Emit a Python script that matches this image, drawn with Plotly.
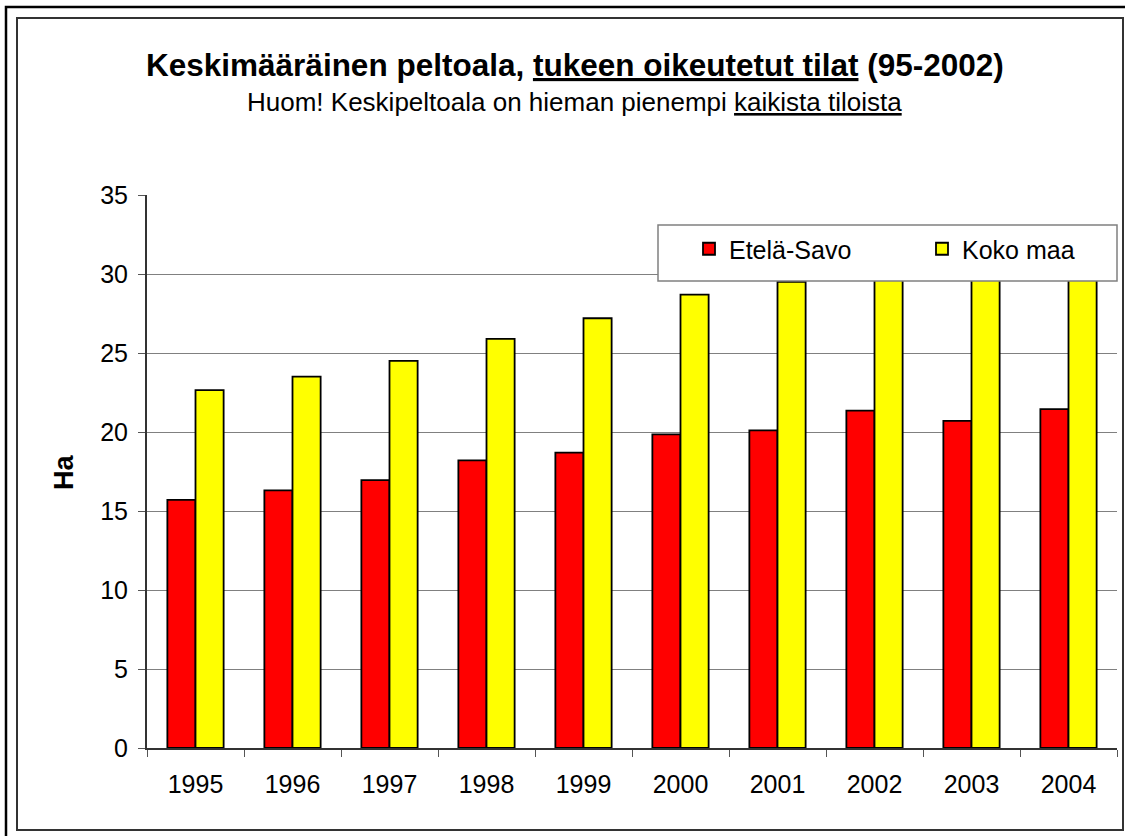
import plotly.graph_objects as go

years = ["1995", "1996", "1997", "1998", "1999", "2000", "2001", "2002", "2003", "2004"]
etela_savo = [15.7, 16.3, 16.95, 18.2, 18.7, 19.85, 20.1, 21.35, 20.7, 21.45]
koko_maa = [22.65, 23.5, 24.5, 25.9, 27.2, 28.7, 29.5, 30.4, 30.9, 31.5]
y_ticks = [0, 5, 10, 15, 20, 25, 30, 35]

FONT = "Arial, Liberation Sans, sans-serif"
W, H = 1125, 836
L, R, T, B = 147, 8, 195, 88
PW, PH = W - L - R, H - T - B


def px(x):
    return (x - L) / PW


def py(y):
    return (H - B - y) / PH


fig = go.Figure()
fig.add_trace(go.Bar(x=years, y=etela_savo, name="Etelä-Savo", legend="legend",
                     marker=dict(color="#FF0000", line=dict(color="black", width=1.8))))
fig.add_trace(go.Bar(x=years, y=koko_maa, name="Koko maa", legend="legend2",
                     marker=dict(color="#FFFF00", line=dict(color="black", width=1.8))))

leg_common = dict(orientation="h", xanchor="left", y=py(249), yanchor="middle",
                  bgcolor="rgba(0,0,0,0)", borderwidth=0,
                  font=dict(family=FONT, size=25, color="black"), itemclick=False)

fig.update_layout(
    width=W, height=H,
    margin=dict(l=L, r=R, t=T, b=B),
    paper_bgcolor="white", plot_bgcolor="white",
    barmode="group", bargap=0.42, bargroupgap=0,
    font=dict(family=FONT, size=25, color="black"),
    showlegend=True,
    legend=dict(x=px(689), **leg_common),
    legend2=dict(x=px(922), **leg_common),
    xaxis=dict(type="category", showline=True, linecolor="#333333", linewidth=1.5,
               ticks="outside", tickson="boundaries", ticklen=7, tickcolor="#555555",
               tickfont=dict(size=25), ticklabelstandoff=13, showgrid=False),
    yaxis=dict(range=[0, 35], tickvals=y_ticks, showline=True, linecolor="#333333", linewidth=2,
               ticks="outside", ticklen=7, tickcolor="#555555", tickfont=dict(size=25),
               ticklabelstandoff=5,
               showgrid=True, gridcolor="#808080", gridwidth=1, zeroline=False),
)

fig.add_annotation(xref="paper", yref="paper", x=px(575), y=py(65),
                   text="<b>Keskimääräinen peltoala, <span style='text-decoration:underline'>tukeen oikeutetut tilat</span> (95-2002)</b>",
                   showarrow=False, font=dict(family=FONT, size=31.5, color="black"),
                   xanchor="center", yanchor="middle")
fig.add_annotation(xref="paper", yref="paper", x=px(574), y=py(102),
                   text="Huom! Keskipeltoala on hieman pienempi <span style='text-decoration:underline'>kaikista tiloista</span>",
                   showarrow=False, font=dict(family=FONT, size=26, color="black"),
                   xanchor="center", yanchor="middle")
fig.add_annotation(xref="paper", yref="paper", x=px(64), y=py(473), text="<b>Ha</b>",
                   textangle=-90, showarrow=False, font=dict(family=FONT, size=27, color="black"),
                   xanchor="center", yanchor="middle")

# legend box (covers bar tops as in the reference)
fig.add_shape(type="rect", xref="paper", yref="paper", layer="above",
              x0=px(658), x1=px(1117), y0=py(281), y1=py(225),
              fillcolor="white", line=dict(color="#808080", width=1.5))
# frames
fig.add_shape(type="rect", xref="paper", yref="paper", layer="below",
              x0=px(17), x1=px(1123), y0=py(830), y1=py(18),
              fillcolor="rgba(0,0,0,0)", line=dict(color="#333333", width=2))
fig.add_shape(type="rect", xref="paper", yref="paper", layer="below",
              x0=px(6), x1=px(1140), y0=py(850), y1=py(7),
              fillcolor="rgba(0,0,0,0)", line=dict(color="black", width=2.5))

fig.write_html("out.html", config={"displayModeBar": False},
               post_script="document.body.style.margin='0';document.body.style.overflow='hidden';")
